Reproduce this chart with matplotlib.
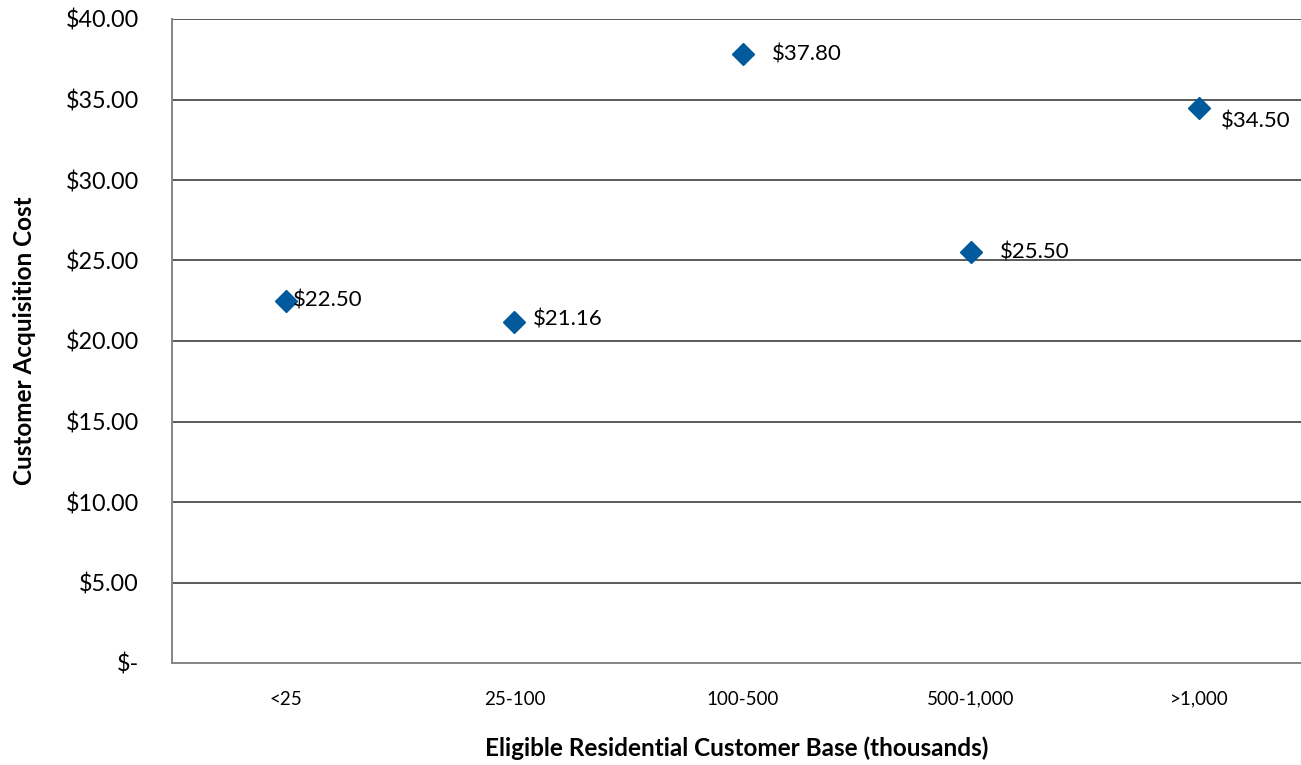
import matplotlib.pyplot as plt
from matplotlib.ticker import FuncFormatter

plt.rcParams['font.family'] = ['Lato', 'DejaVu Sans']

categories = ['<25', '25-100', '100-500', '500-1,000', '>1,000']
costs = [22.50, 21.16, 37.80, 25.50, 34.50]
# label offsets in points (dx, dy)
label_offsets = [(5, 0), (13, 2), (21, 0), (21, 0), (16, -10)]

fig = plt.figure(figsize=(13.01, 7.65), dpi=100)
ax = fig.add_axes([172 / 1301, 1 - 663 / 765, 1 - 172 / 1301, (663 - 19) / 765])

x = list(range(len(categories)))
ax.plot(x, costs, linestyle='none', marker='D', markersize=11,
        color='#005A9C', clip_on=False, zorder=3)

for xi, v, (dx, dy) in zip(x, costs, label_offsets):
    ax.annotate(f'${v:.2f}', (xi, v), xytext=(dx, dy), textcoords='offset points',
                ha='left', va='center', fontsize=16, color='#000000')

ax.set_xlim(-0.5, 4.446)
ax.set_ylim(0, 40)
ax.set_yticks(range(0, 41, 5))
ax.yaxis.set_major_formatter(FuncFormatter(lambda v, p: '$-' if v == 0 else f'${v:.2f}'))
ax.set_xticks(x)
ax.set_xticklabels(categories)

ax.grid(axis='y', color='#595959', linewidth=1.4)
ax.set_axisbelow(True)
for s in ['top', 'right']:
    ax.spines[s].set_visible(False)
ax.spines['left'].set_color('#868686')
ax.spines['bottom'].set_color('#868686')
ax.spines['left'].set_linewidth(1.4)
ax.spines['bottom'].set_linewidth(1.4)

ax.tick_params(axis='both', length=0)
ax.tick_params(axis='y', labelsize=16.8, pad=23.8)
ax.tick_params(axis='x', labelsize=13.5, pad=20)

ax.set_xlabel('Eligible Residential Customer Base (thousands)', fontsize=17.5,
              fontweight='bold')
ax.set_ylabel('Customer Acquisition Cost', fontsize=17.5, fontweight='bold')
ax.xaxis.set_label_coords(0.5, (663 - 748) / 644)
ax.xaxis.label.set_va('center')
ax.yaxis.set_label_coords((25 - 172) / 1129, 0.5)
ax.yaxis.label.set_va('center')

fig.savefig('out.png', dpi=100)
